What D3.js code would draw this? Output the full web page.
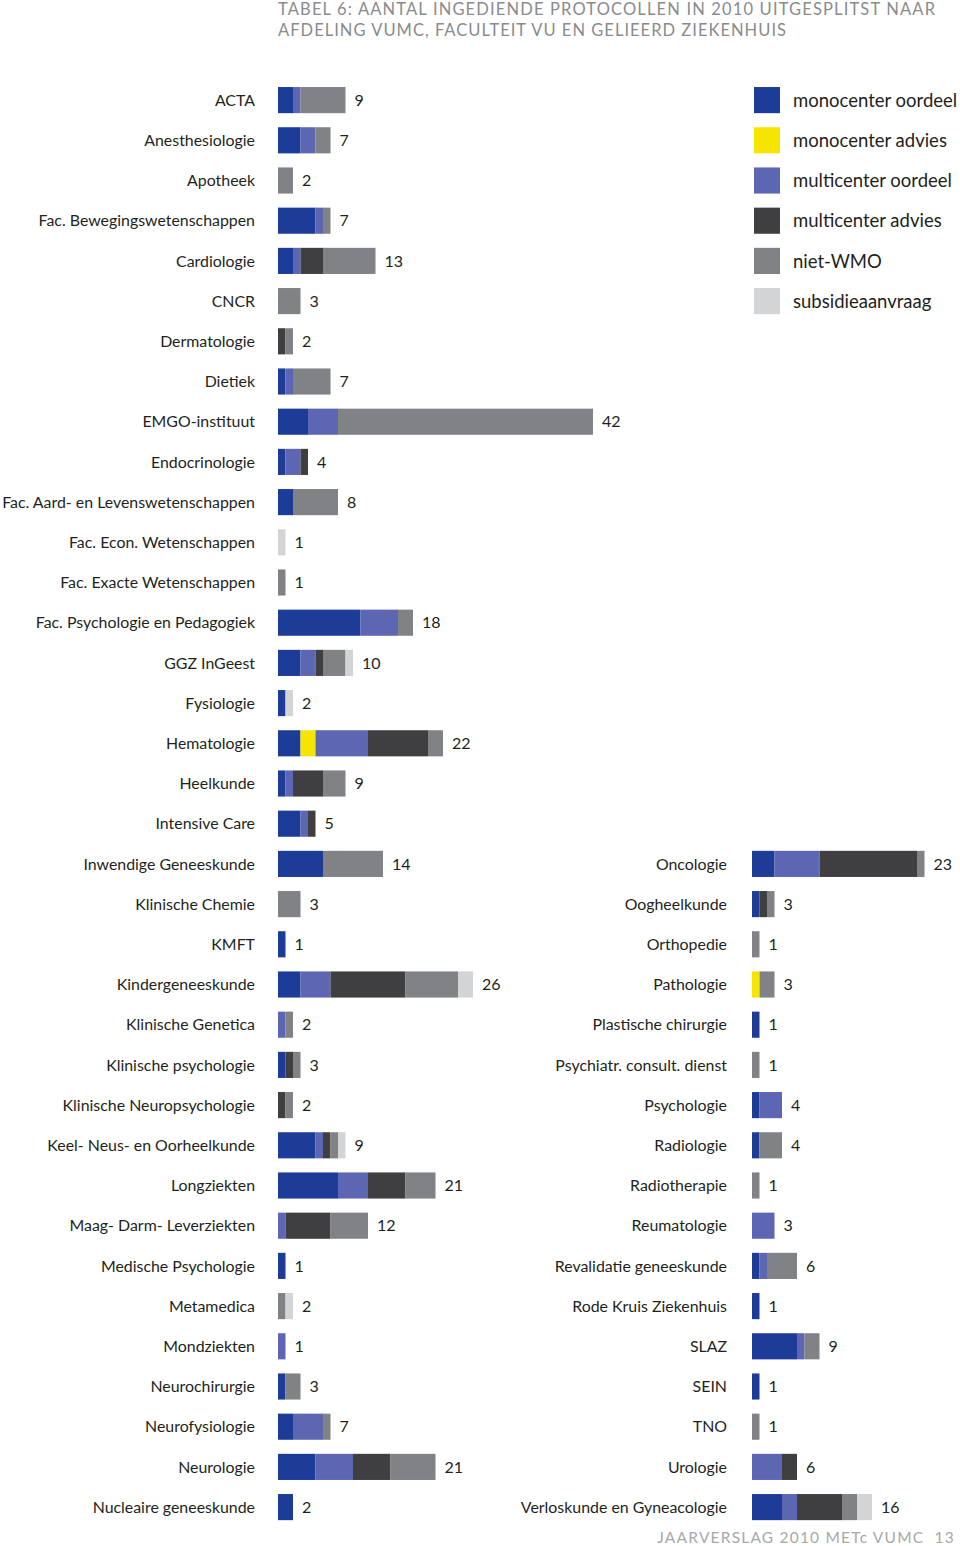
<!DOCTYPE html>
<html>
<head>
<meta charset="utf-8">
<script src="https://cdn.jsdelivr.net/npm/d3@7"></script>
<style>
  html, body { margin: 0; padding: 0; background: #fff; }
  svg { display: block; }
  text { font-family: Lato, "Open Sans", sans-serif; }
</style>
</head>
<body>
<svg id="chart" width="960" height="1546"></svg>
<script>
// ---------- DATA ----------
const seriesKeys = ["monocenter oordeel", "monocenter advies", "multicenter oordeel", "multicenter advies", "niet-WMO", "subsidieaanvraag"];
const seriesColors = ["#1d3c98", "#f6e500", "#5c66b2", "#3f3f42", "#818286", "#d3d4d6"];

const leftCategories = ["ACTA", "Anesthesiologie", "Apotheek", "Fac. Bewegingswetenschappen", "Cardiologie", "CNCR", "Dermatologie", "Dietiek", "EMGO-instituut", "Endocrinologie", "Fac. Aard- en Levenswetenschappen", "Fac. Econ. Wetenschappen", "Fac. Exacte Wetenschappen", "Fac. Psychologie en Pedagogiek", "GGZ InGeest", "Fysiologie", "Hematologie", "Heelkunde", "Intensive Care", "Inwendige Geneeskunde", "Klinische Chemie", "KMFT", "Kindergeneeskunde", "Klinische Genetica", "Klinische psychologie", "Klinische Neuropsychologie", "Keel- Neus- en Oorheelkunde", "Longziekten", "Maag- Darm- Leverziekten", "Medische Psychologie", "Metamedica", "Mondziekten", "Neurochirurgie", "Neurofysiologie", "Neurologie", "Nucleaire geneeskunde"];
const leftMonoOordeel  = [2,3,0,5,2,0,0,1,4,1,2,0,0,11,3,1,3,1,3,6,0,1,3,0,1,0,5,8,0,1,0,0,1,2,5,2];
const leftMonoAdvies   = [0,0,0,0,0,0,0,0,0,0,0,0,0,0,0,0,2,0,0,0,0,0,0,0,0,0,0,0,0,0,0,0,0,0,0,0];
const leftMultiOordeel = [1,2,0,1,1,0,0,1,4,2,0,0,0,5,2,0,7,1,1,0,0,0,4,1,0,0,1,4,1,0,0,1,0,4,5,0];
const leftMultiAdvies  = [0,0,0,0,3,0,1,0,0,1,0,0,0,0,1,0,8,4,1,0,0,0,10,0,1,1,1,5,6,0,0,0,0,0,5,0];
const leftNietWMO      = [6,2,2,1,7,3,1,5,34,0,6,0,1,2,3,0,2,3,0,8,3,0,7,1,1,1,1,4,5,0,1,0,2,1,6,0];
const leftSubsidie     = [0,0,0,0,0,0,0,0,0,0,0,1,0,0,1,1,0,0,0,0,0,0,2,0,0,0,1,0,0,0,1,0,0,0,0,0];

const rightCategories = ["Oncologie", "Oogheelkunde", "Orthopedie", "Pathologie", "Plastische chirurgie", "Psychiatr. consult. dienst", "Psychologie", "Radiologie", "Radiotherapie", "Reumatologie", "Revalidatie geneeskunde", "Rode Kruis Ziekenhuis", "SLAZ", "SEIN", "TNO", "Urologie", "Verloskunde en Gyneacologie"];
const rightMonoOordeel  = [3,1,0,0,1,0,1,1,0,0,1,1,6,1,0,0,4];
const rightMonoAdvies   = [0,0,0,1,0,0,0,0,0,0,0,0,0,0,0,0,0];
const rightMultiOordeel = [6,0,0,0,0,0,3,0,0,3,1,0,1,0,0,4,2];
const rightMultiAdvies  = [13,1,0,0,0,0,0,0,0,0,0,0,0,0,0,2,6];
const rightNietWMO      = [1,1,1,2,0,1,0,3,1,0,4,0,2,0,1,0,2];
const rightSubsidie     = [0,0,0,0,0,0,0,0,0,0,0,0,0,0,0,0,2];

const titleLines = ["TABEL 6: AANTAL INGEDIENDE PROTOCOLLEN IN 2010 UITGESPLITST NAAR", "AFDELING VUMC, FACULTEIT VU EN GELIEERD ZIEKENHUIS"];
const footerText = "JAARVERSLAG 2010 METc VUMC  13";

// ---------- BUILD ----------
function buildRows(cats, arrs) {
  return cats.map((c, i) => {
    const o = { name: c };
    seriesKeys.forEach((k, j) => o[k] = arrs[j][i]);
    o.total = arrs.reduce((s, a) => s + a[i], 0);
    return o;
  });
}
const leftRows = buildRows(leftCategories, [leftMonoOordeel, leftMonoAdvies, leftMultiOordeel, leftMultiAdvies, leftNietWMO, leftSubsidie]);
const rightRows = buildRows(rightCategories, [rightMonoOordeel, rightMonoAdvies, rightMultiOordeel, rightMultiAdvies, rightNietWMO, rightSubsidie]);

const svg = d3.select("#chart");
const step = 40.2;
const top0 = 80;
const color = d3.scaleOrdinal().domain(seriesKeys).range(seriesColors);
const x = d3.scaleLinear().domain([0, 42]).range([0, 315]);

const yLeft = d3.scaleBand().domain(leftCategories)
  .range([top0, top0 + leftCategories.length * step]).paddingInner(0.35).paddingOuter(0.175);
const rightStart = 19;
const yRight = d3.scaleBand().domain(rightCategories)
  .range([top0 + rightStart * step, top0 + (rightStart + rightCategories.length) * step]).paddingInner(0.35).paddingOuter(0.175);

const stack = d3.stack().keys(seriesKeys);

function drawColumn(rows, y, barX, labelX) {
  const g = svg.append("g").attr("transform", `translate(${barX},0)`);
  const stacked = stack(rows);
  g.selectAll("g.series").data(stacked).join("g")
    .attr("class", "series").attr("fill", d => color(d.key))
    .selectAll("rect").data(d => d.filter(s => s[1] > s[0])).join("rect")
    .attr("x", d => x(d[0]))
    .attr("width", d => x(d[1]) - x(d[0]))
    .attr("y", d => y(d.data.name))
    .attr("height", y.bandwidth());

  // value labels
  g.selectAll("text.val").data(rows).join("text")
    .attr("class", "val")
    .attr("x", d => x(d.total) + 9)
    .attr("y", d => y(d.name) + y.bandwidth() / 2)
    .attr("dy", "0.36em")
    .attr("font-size", 16)
    .attr("fill", "#231f20")
    .text(d => d.total);

  // category labels
  svg.append("g").selectAll("text").data(rows).join("text")
    .attr("x", labelX)
    .attr("y", d => y(d.name) + y.bandwidth() / 2)
    .attr("dy", "0.36em")
    .attr("text-anchor", "end")
    .attr("font-size", 15.9)
    .attr("fill", "#231f20")
    .text(d => d.name);
}

drawColumn(leftRows, yLeft, 278, 255);
drawColumn(rightRows, yRight, 752, 727);

// legend
const legendY = d3.scaleBand().domain(seriesKeys)
  .range([top0, top0 + seriesKeys.length * step]).paddingInner(0.35).paddingOuter(0.175);
const lg = svg.append("g");
lg.selectAll("rect").data(seriesKeys).join("rect")
  .attr("x", 754).attr("y", d => legendY(d))
  .attr("width", 26).attr("height", legendY.bandwidth())
  .attr("fill", d => color(d));
lg.selectAll("text").data(seriesKeys).join("text")
  .attr("x", 793).attr("y", d => legendY(d) + legendY.bandwidth() / 2)
  .attr("dy", "0.36em")
  .attr("font-size", 18.5)
  .attr("fill", "#231f20")
  .text(d => d);

// title
const titleWidths = [657, 508];
svg.append("g").selectAll("text").data(titleLines).join("text")
  .attr("x", 278).attr("y", (d, i) => 15 + i * 21)
  .attr("font-size", 16.5)
  .attr("fill", "#8a8b8d")
  .attr("textLength", (d, i) => titleWidths[i])
  .attr("lengthAdjust", "spacing")
  .text(d => d);

// footer
svg.append("text")
  .attr("x", 955).attr("y", 1543)
  .attr("text-anchor", "end")
  .attr("font-family", "Liberation Sans, Arial, sans-serif")
  .attr("font-size", 15.5)
  .attr("letter-spacing", 1.2)
  .attr("fill", "#a7a8aa")
  .style("white-space", "pre")
  .text(footerText);
</script>
</body>
</html>
